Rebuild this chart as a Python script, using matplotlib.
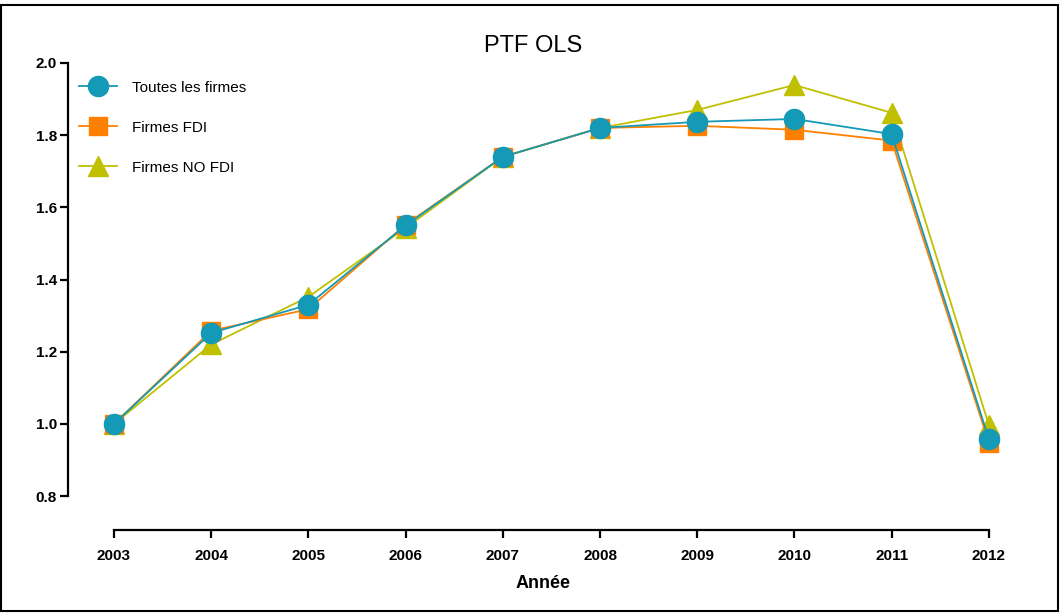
import matplotlib.pyplot as plt
from matplotlib.patches import Rectangle
import numpy as np

# data
years = [2003, 2004, 2005, 2006, 2007, 2008, 2009, 2010, 2011, 2012]
toutes = [1.00, 1.252, 1.33, 1.55, 1.74, 1.82, 1.837, 1.845, 1.803, 0.958]
fdi = [1.00, 1.258, 1.318, 1.552, 1.74, 1.82, 1.826, 1.815, 1.785, 0.948]
no_fdi = [1.00, 1.22, 1.352, 1.543, 1.74, 1.82, 1.87, 1.939, 1.862, 0.997]
yticks = [0.8, 1.0, 1.2, 1.4, 1.6, 1.8, 2.0]

plt.rcParams['font.family'] = ['Liberation Sans', 'DejaVu Sans']

fig = plt.figure(figsize=(10.61, 6.14), dpi=100)
W, H = 1061, 614
ax = fig.add_axes([68 / W, 1 - 530 / H, (1018 - 68) / W, (530 - 63) / H])

# drawing order: triangles at the back, circles on top
ax.plot(years, no_fdi, color='#C0C000', lw=1.3, marker='^', ms=15,
        label='Firmes NO FDI', zorder=2, clip_on=False)
ax.plot(years, fdi, color='#FF8000', lw=1.3, marker='s', ms=13,
        label='Firmes FDI', zorder=3, clip_on=False)
ax.plot(years, toutes, color='#149AB6', lw=1.3, marker='o', ms=14.5,
        label='Toutes les firmes', zorder=4, clip_on=False)

ax.set_xlim(2002.527, 2012.3)
ax.set_ylim(0.706, 2.0)

for s in ['top', 'right']:
    ax.spines[s].set_visible(False)
ax.spines['left'].set_bounds(0.8, 2.0)
ax.spines['bottom'].set_bounds(2003, 2012)
ax.spines['left'].set_linewidth(1.6)
ax.spines['bottom'].set_linewidth(1.6)

ax.set_xticks(years)
ax.set_xticklabels([str(y) for y in years], fontsize=11, fontweight='bold')
ax.set_yticks(yticks)
ax.set_yticklabels(['%.1f' % v for v in yticks], fontsize=11, fontweight='bold')
ax.tick_params(axis='x', length=6, width=1.6, pad=8)
ax.tick_params(axis='y', length=6, width=1.6, pad=2)

ax.set_xlabel('Année', fontsize=13, fontweight='bold', labelpad=8)
fig.text(533 / W, 1 - 46 / H, 'PTF OLS', fontsize=17, ha='center', va='center')

handles, labels = ax.get_legend_handles_labels()
ax.legend(handles[::-1], labels[::-1], loc='upper left', frameon=False,
          bbox_to_anchor=(0.0, 0.985), fontsize=11, handlelength=2.5,
          labelspacing=1.7, handletextpad=1.0, borderaxespad=0.3)

# frame around the whole picture
fig.patches.append(Rectangle((1 / W, 3 / H), 1 - 4 / W, 1 - 8 / H,
                             transform=fig.transFigure, fill=False,
                             edgecolor='black', lw=1.5))

fig.savefig('out.png', dpi=100)
plt.close(fig)
